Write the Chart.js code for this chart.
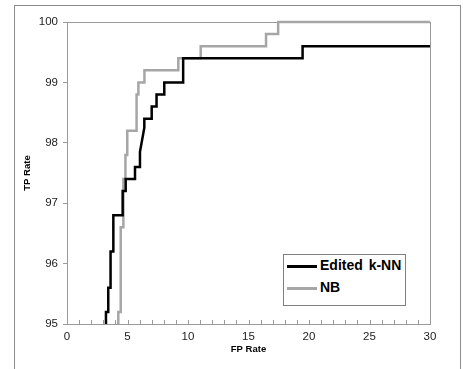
<!DOCTYPE html>
<html>
<head>
<meta charset="utf-8">
<script src="https://cdn.jsdelivr.net/npm/chart.js@4"></script>
<style>
  body { margin: 0; background: #fff; }
  #wrap { position: relative; width: 463px; height: 369px; overflow: hidden; }
  #frame { position: absolute; left: 14px; top: 5px; width: 445px; height: 400px; border: 1px solid #8c8c8c; }
  canvas { position: absolute; left: 0; top: 0; }
  #legend { position: absolute; left: 283px; top: 254px; width: 121px; height: 50px; border: 1px solid #808080; background: #fff;
            font: bold 14px "Liberation Sans", Arial, sans-serif; color: #000; }
  #legend div { position: absolute; left: 36px; word-spacing: 2px; }
  #legend span { position: absolute; left: 3px; width: 30px; height: 3px; }
</style>
</head>
<body>
<div id="wrap">
  <div id="frame"></div>
  <canvas id="rocChart" width="463" height="369"></canvas>
  <div id="legend">
    <span style="top:10px;background:#000"></span><div style="top:2px">Edited k-NN</div>
    <span style="top:32px;background:#a6a6a6"></span><div style="top:24px">NB</div>
  </div>
</div>
<script>
// FP rate / TP rate corners of each ROC step curve
const knnFp = [3.22, 3.22, 3.41, 3.41, 3.6, 3.6, 3.83, 3.83, 4.6, 4.6, 4.85, 4.85, 5.62, 5.62, 6.03, 6.03, 6.39, 6.39, 7.0, 7.0, 7.4, 7.4, 8.04, 8.04, 9.6, 9.6, 19.47, 19.47, 30];
const knnTp = [95, 95.2, 95.2, 95.6, 95.6, 96.2, 96.2, 96.8, 96.8, 97.2, 97.2, 97.4, 97.4, 97.6, 97.6, 97.85, 98.25, 98.4, 98.4, 98.6, 98.6, 98.8, 98.8, 99.0, 99.0, 99.4, 99.4, 99.6, 99.6];
const nbFp = [4.24, 4.24, 4.44, 4.44, 4.66, 4.66, 4.83, 4.83, 4.98, 4.98, 5.75, 5.75, 5.9, 5.9, 6.4, 6.4, 9.2, 9.2, 11.05, 11.05, 16.45, 16.45, 17.45, 17.45, 30];
const nbTp = [95, 95.2, 95.2, 96.6, 96.6, 97.4, 97.4, 97.8, 97.8, 98.2, 98.2, 98.8, 98.8, 99.0, 99.0, 99.2, 99.2, 99.4, 99.4, 99.6, 99.6, 99.8, 99.8, 100, 100];
const seriesNames = ['Edited k-NN', 'NB'];
const fpTicks = [0, 5, 10, 15, 20, 25, 30];

const toPoints = (xs, ys) => xs.map((x, i) => ({ x: x, y: ys[i] }));
const axisGrey = '#9a9a9a';
const labelFont = { family: '"Liberation Sans", Arial, sans-serif', size: 11.5 };
const titleFont = { family: '"Liberation Sans", Arial, sans-serif', size: 9.5, weight: 'bold' };

// plot area frame + short inside ticks on the x axis
const framePlugin = {
    id: 'frame',
    beforeDatasetsDraw(chart) {
        const { ctx, chartArea: a, scales } = chart;
        ctx.save();
        ctx.strokeStyle = axisGrey;
        ctx.lineWidth = 1;
        ctx.strokeRect(a.left + 0.5, a.top + 0.5, a.right - a.left, a.bottom - a.top);
        ctx.beginPath();
        for (let v = 0; v <= 30; v++) {
            const px = Math.round(scales.x.getPixelForValue(v)) + 0.5;
            ctx.moveTo(px, a.bottom);
            ctx.lineTo(px, a.bottom - 4);
        }
        ctx.stroke();
        ctx.restore();
    }
};

const ctx = document.getElementById('rocChart').getContext('2d');
new Chart(ctx, {
    type: 'line',
    data: {
        datasets: [{
            label: seriesNames[0],
            data: toPoints(knnFp, knnTp),
            borderColor: '#000',
            borderWidth: 2.5,
            pointRadius: 0,
            tension: 0,
            clip: 4
        }, {
            label: seriesNames[1],
            data: toPoints(nbFp, nbTp),
            borderColor: '#a6a6a6',
            borderWidth: 2.5,
            pointRadius: 0,
            tension: 0,
            clip: 4
        }]
    },
    options: {
        responsive: false,
        animation: false,
        layout: { padding: { left: 14, top: 22, right: 33, bottom: 0 } },
        plugins: {
            legend: { display: false },
            tooltip: { enabled: false }
        },
        scales: {
            x: {
                type: 'linear',
                min: 0,
                max: 30,
                afterFit(scale) { scale.height = 45; },
                grid: { drawOnChartArea: false, drawTicks: false },
                border: { color: axisGrey },
                ticks: {
                    stepSize: 1,
                    autoSkip: false,
                    maxRotation: 0,
                    padding: 6,
                    color: '#222',
                    font: labelFont,
                    callback: v => fpTicks.includes(v) ? String(v) : ''
                },
                title: { display: true, text: 'FP Rate', color: '#000', font: titleFont, padding: { top: 2, bottom: 14 } }
            },
            y: {
                type: 'linear',
                min: 95,
                max: 100,
                afterFit(scale) { scale.width = 53; },
                grid: { drawOnChartArea: false, tickLength: 4, color: axisGrey },
                border: { color: axisGrey },
                ticks: { stepSize: 1, padding: 5, color: '#222', font: labelFont },
                title: { display: true, text: 'TP Rate', color: '#000', font: titleFont, padding: { top: 8, bottom: 4 } }
            }
        }
    },
    plugins: [framePlugin]
});
</script>
</body>
</html>
